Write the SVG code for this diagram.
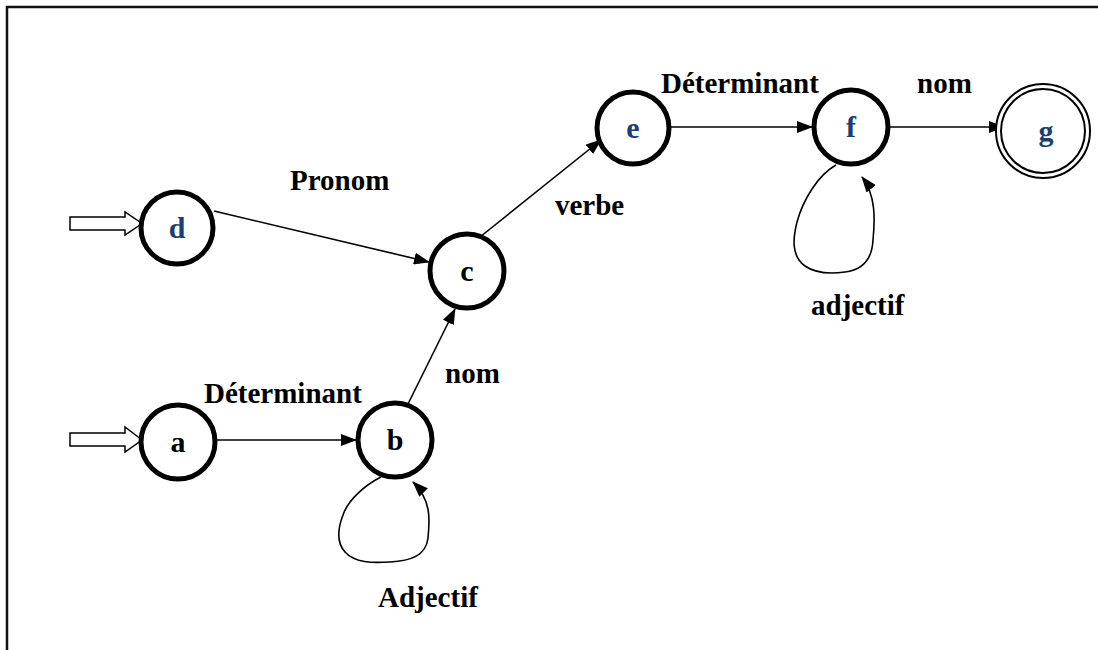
<svg xmlns="http://www.w3.org/2000/svg" width="1098" height="650" viewBox="0 0 1098 650">
  <style>
    .state { fill: #fff; stroke: #000; stroke-width: 5; }
    .final { fill: #fff; stroke: #000; stroke-width: 2; }
    .name { font-family: "Liberation Serif", "Times New Roman", serif; font-weight: bold; font-size: 30px; text-anchor: middle; }
    .blue { fill: #1b3f6e; }
    .black { fill: #000; }
    .lbl { font-family: "Liberation Serif", "Times New Roman", serif; font-weight: bold; font-size: 29px; fill: #000; }
    .edge { fill: none; stroke: #000; stroke-width: 1.6; marker-end: url(#tip); }
    .entry { fill: #fff; stroke: #000; stroke-width: 1.5; }
  </style>
  <defs>
    <marker id="tip" viewBox="0 0 16 12" refX="15" refY="6" markerWidth="16" markerHeight="12" markerUnits="userSpaceOnUse" orient="auto">
      <path d="M0,0 L16,6 L0,12 Z" fill="#000"/>
    </marker>
  </defs>

  <rect width="1098" height="650" fill="#fff"/>
  <!-- frame (top and left edges) -->
  <path d="M7,650 V7 H1098" fill="none" stroke="#111" stroke-width="2.5"/>

  <g id="connectors">
    <!-- entry arrows -->
    <path class="entry" d="M70,217 H125 V212 L142,223.5 L125,235 V230 H70 Z"/>
    <path class="entry" d="M70,433 H125 V427 L142,440 L125,452 V446 H70 Z"/>
    <!-- transitions -->
    <path class="edge" d="M214,211 L429,262"/>
    <path class="edge" d="M217,440 L356,440"/>
    <path class="edge" d="M408,404 L455,309"/>
    <path class="edge" d="M480,237 L601,140"/>
    <path class="edge" d="M670,127 L812,127"/>
    <path class="edge" d="M890,127 L1004,127"/>
    <!-- self loops -->
    <path class="edge" d="M381,477 C365,485 348,500 343,515 C338,528 336,542 345,552 C355,563 372,563 390,562 C410,561 426,556 428,538 C430,518 431,500 413,482"/>
    <path class="edge" d="M836,165 C818,175 803,200 797,222 C793,238 791,256 805,266 C815,273 830,274 845,272 C862,270 872,260 873,240 C875,220 876,195 862,177"/>
    <text class="lbl" x="290" y="190">Pronom</text>
    <text class="lbl" x="204" y="403">Déterminant</text>
    <text class="lbl" x="445" y="383">nom</text>
    <text class="lbl" x="378" y="607">Adjectif</text>
    <text class="lbl" x="555" y="215">verbe</text>
    <text class="lbl" x="661" y="93">Déterminant</text>
    <text class="lbl" x="917" y="93">nom</text>
    <text class="lbl" x="811" y="315">adjectif</text>
  </g>

  <g id="node-d">
    <circle class="state" cx="177" cy="228" r="36"/>
    <text class="name blue" x="177" y="238">d</text>
  </g>
  <g id="node-a">
    <circle class="state" cx="178" cy="442" r="37"/>
    <text class="name black" x="178" y="452">a</text>
  </g>
  <g id="node-b">
    <circle class="state" cx="395" cy="440" r="37"/>
    <text class="name black" x="395" y="450">b</text>
  </g>
  <g id="node-c">
    <circle class="state" cx="467" cy="271" r="37"/>
    <text class="name black" x="467" y="281">c</text>
  </g>
  <g id="node-e">
    <circle class="state" cx="633" cy="128" r="36"/>
    <text class="name blue" x="633" y="138">e</text>
  </g>
  <g id="node-f">
    <circle class="state" cx="851" cy="127" r="37"/>
    <text class="name blue" x="851" y="137">f</text>
  </g>
  <g id="node-g">
    <circle class="final" cx="1043" cy="131" r="47"/>
    <circle class="final" cx="1043" cy="131" r="42"/>
    <text class="name blue" x="1046" y="141">g</text>
  </g>
</svg>
